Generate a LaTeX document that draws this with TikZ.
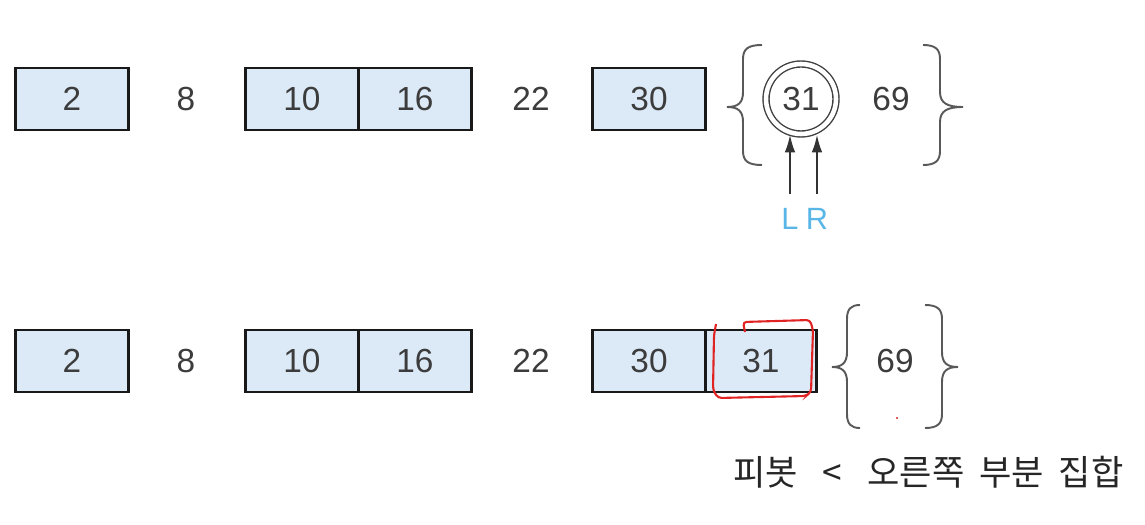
\documentclass[tikz,border=0pt]{standalone}
\usepackage{fontspec}
\setmainfont{Liberation Sans}
\newfontfamily\kofont{Noto Sans CJK KR}
\usetikzlibrary{positioning,arrows.meta}
\definecolor{cellfill}{HTML}{DCEAF8}
\definecolor{numgray}{HTML}{3C3C3C}
\definecolor{lrblue}{HTML}{5AB6E6}
\definecolor{markred}{HTML}{E02424}
\begin{document}
\begin{tikzpicture}[
  x=0.02cm, y=0.02cm,
  every node/.style={
    text=numgray,
    font=\fontsize{19}{22}\selectfont
  },
  cell/.style={
    draw=black!90,
    fill=cellfill,
    line width=1.5pt,
    minimum width=2.26cm,
    minimum height=1.24cm,
    inner sep=0pt,
    outer sep=0pt
  },
  brc/.style={draw=black!65, line width=1.1pt},
  ptr/.style={-{Latex[length=10pt,width=6pt]}, line width=1.1pt, draw=black!80}
]
\useasboundingbox (0,0) rectangle (1145,524);

% first pass: L and R meet at 31
\node[cell] (a2) at (72,425) {2};
\node (a8) at (186,425) {8};
\node[cell] (a10) at (302,425) {10};
\node[cell] (a16) [right=0pt of a10] {16};
\node (a22) at (531,425) {22};
\node[cell] (a30) at (649,425) {30};
\node[circle, draw=black!75, double, double distance=2.6pt, line width=0.8pt,
      minimum size=1.4cm, inner sep=0pt] (a31) at (801,425) {31};
\node (a69) at (891,425) {69};
\node[text=lrblue, font=\fontsize{17.5}{20}\selectfont, inner sep=0pt] (pL) at (790,305) {L};
\node[text=lrblue, font=\fontsize{17.5}{20}\selectfont, inner sep=0pt] (pR) at (817,305) {R};

\draw[ptr, shorten <=8pt] (pL.north) -- (pL.north |- a31.south);
\draw[ptr, shorten <=8pt] (pR.north) -- (pR.north |- a31.south);

\draw[brc] (762,479) .. controls (748,479) and (743,475) .. (743,465) -- (743,432)
  .. controls (743,421) and (738,417) .. (727,417)
  .. controls (738,417) and (743,413) .. (743,402) -- (743,373)
  .. controls (743,363) and (748,359) .. (762,359);
\draw[brc] (923,479) .. controls (935,479) and (940,475) .. (940,465) -- (940,432)
  .. controls (940,421) and (947,417) .. (963,417)
  .. controls (947,417) and (940,413) .. (940,402) -- (940,373)
  .. controls (940,363) and (935,359) .. (923,359);

% second pass: 31 joins the sorted part
\node[cell] (b2) at (72,163) {2};
\node (b8) at (186,163) {8};
\node[cell] (b10) at (302,163) {10};
\node[cell] (b16) [right=0pt of b10] {16};
\node (b22) at (531,163) {22};
\node[cell] (b30) at (649,163) {30};
\node[cell, minimum width=2.22cm] (b31) [right=0pt of b30] {31};
\node (b69) at (895,163) {69};

\draw[brc] (860,219) .. controls (851,219) and (847,215) .. (847,205) -- (847,172)
  .. controls (847,161) and (842,157) .. (832,157)
  .. controls (842,157) and (847,153) .. (847,142) -- (847,110)
  .. controls (847,100) and (851,96) .. (860,96);
\draw[brc] (925,219) .. controls (937,219) and (942,215) .. (942,205) -- (942,172)
  .. controls (942,161) and (947,157) .. (958,157)
  .. controls (947,157) and (942,153) .. (942,142) -- (942,110)
  .. controls (942,100) and (937,96) .. (925,96);

\draw[markred, line width=1.2pt, rounded corners=2pt] (745,192) -- (743,202) -- (810,204)
  -- (813,194) -- (811,132) -- (806,128) -- (718,126) -- (713,134) -- (714,189) -- (716,200);
\fill[markred] (897,106) circle (1.2);

\node[anchor=west, text=black!85, font=\kofont\fontsize{20}{24}\selectfont] (note) at (727,52)
  {피봇\hspace{0.5cm}<\hspace{0.5cm}오른쪽\hspace{0.3cm}부분\hspace{0.3cm}집합};
\end{tikzpicture}
\end{document}
